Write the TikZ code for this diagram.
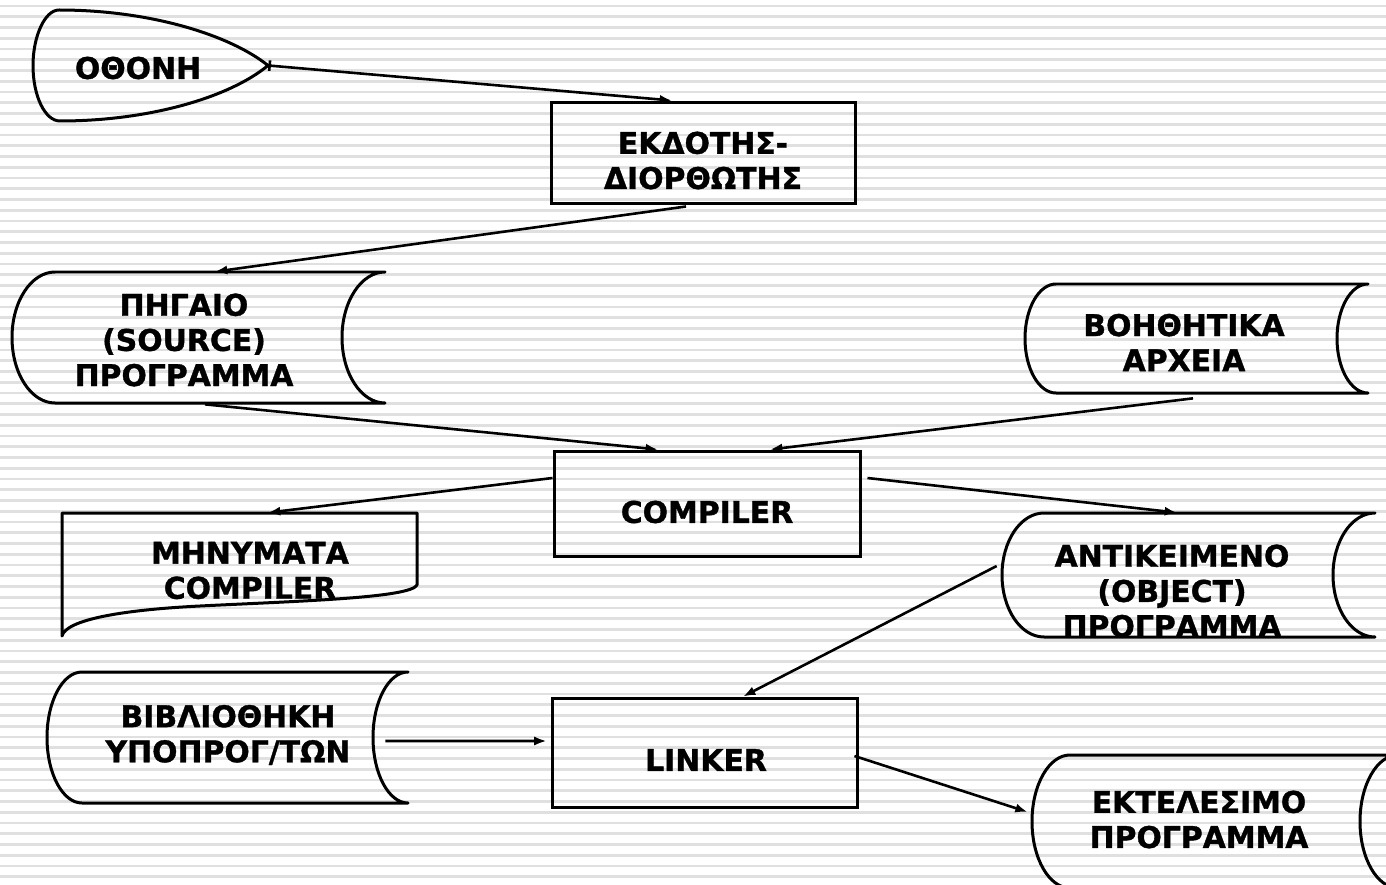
\documentclass[tikz,border=0pt]{standalone}
\usepackage{fontspec}
\setmainfont{DejaVu Sans}
\newfontfamily\lblfamily[FakeBold=1.2]{DejaVu Sans Bold}
\usetikzlibrary{arrows.meta,calc}

\tikzset{
  stripe/.style={line width=0.054cm, black!12},
  outline/.style={line width=0.06cm, black, line join=round},
  procbox/.style={draw, line width=0.06cm, rectangle, inner sep=0pt},
  area/.style={rectangle, inner sep=0pt, draw=none},
  lbl/.style={font=\lblfamily\fontsize{17}{20}\selectfont, align=center, inner sep=0pt},
  conn/.style={line width=0.052cm, -{Latex[length=7pt,width=5.2pt]}},
}

% stored-data symbol: name, left x, top y, right x, bottom y, arc depth
\newcommand\storeshape[6]{%
  \pgfmathsetmacro\stM{(#3+#5)/2}%
  \pgfmathsetmacro\stH{0.5523*(#5-#3)/2}%
  \pgfmathsetmacro\stK{0.5523*#6}%
  \pgfmathsetmacro\stW{(#4-#2)*0.02}%
  \pgfmathsetmacro\stV{(#5-#3)*0.02}%
  \node[area, minimum width=\stW cm, minimum height=\stV cm] (#1) at ({(#2+#4)/2},\stM) {};
  \draw[outline] (#2+#6,#3) -- (#4,#3)
    .. controls (#4-\stK,#3) and (#4-#6,\stM-\stH) .. (#4-#6,\stM)
    .. controls (#4-#6,\stM+\stH) and (#4-\stK,#5) .. (#4,#5)
    -- (#2+#6,#5)
    .. controls (#2+#6-\stK,#5) and (#2,\stM+\stH) .. (#2,\stM)
    .. controls (#2,\stM-\stH) and (#2+#6-\stK,#3) .. cycle;
}

\begin{document}
\begin{tikzpicture}[x=0.02cm, y=-0.02cm]
\useasboundingbox (0,0) rectangle (1386,885);
\clip (0,0) rectangle (1386,885);

% striped background
\foreach \k in {0,...,82} {
  \draw[stripe] (0,6+10.75*\k) -- (1386,6+10.75*\k);
}

% display
\node[area, minimum width=4.7cm, minimum height=2.22cm] (screen) at (150.5,65.5) {};
\draw[outline] (59,10) .. controls (150,10) and (230,35) .. (268,65.5)
  .. controls (230,97) and (150,121) .. (60,121)
  .. controls (45,121) and (33,96) .. (33,65.5)
  .. controls (33,36) and (45,10) .. (59,10);
\node[lbl] (screen-text) at (138,68) {ΟΘΟΝΗ};

% editor
\node[procbox, minimum width=6.10cm, minimum height=2.04cm] (editor) at (703.5,153) {};
\node[lbl] (editor-text) at (703,160.5) {ΕΚΔΟΤΗΣ-\\ΔΙΟΡΘΩΤΗΣ};

% source program
\storeshape{src}{12}{272}{385}{403}{43}
\node[lbl] (src-text) at (184,340) {ΠΗΓΑΙΟ\\(SOURCE)\\ΠΡΟΓΡΑΜΜΑ};

% auxiliary files
\storeshape{aux}{1025}{284}{1368}{393}{31}
\node[lbl] (aux-text) at (1184,342.5) {ΒΟΗΘΗΤΙΚΑ\\ΑΡΧΕΙΑ};

% compiler
\node[procbox, minimum width=6.14cm, minimum height=2.12cm] (compiler) at (707.5,504) {};
\node[lbl] (compiler-text) at (707,512) {COMPILER};

% compiler messages (document symbol)
\node[area, minimum width=7.10cm, minimum height=2.46cm] (msg) at (239.5,574.5) {};
\draw[outline] (62,513) -- (417,513) -- (417,585)
  .. controls (410,598) and (300,601) .. (200,606)
  .. controls (120,610) and (66,620) .. (62,636) -- cycle;
\node[lbl] (msg-text) at (250,570.5) {ΜΗΝΥΜΑΤΑ\\COMPILER};

% object program
\storeshape{obj}{1002}{513}{1375}{637}{42}
\node[lbl] (obj-text) at (1172,591) {ΑΝΤΙΚΕΙΜΕΝΟ\\(OBJECT)\\ΠΡΟΓΡΑΜΜΑ};

% subroutine library
\storeshape{lib}{47}{672}{408}{803}{35}
\node[lbl] (lib-text) at (228,735) {ΒΙΒΛΙΟΘΗΚΗ\\ΥΠΟΠΡΟΓ/ΤΩΝ};

% linker
\node[procbox, minimum width=6.12cm, minimum height=2.20cm] (linker) at (705,753) {};
\node[lbl] (linker-text) at (706,760) {LINKER};

% executable program
\storeshape{exec}{1032}{755}{1398}{888}{38}
\node[lbl] (exec-text) at (1199,819.5) {ΕΚΤΕΛΕΣΙΜΟ\\ΠΡΟΓΡΑΜΜΑ};

% connectors
\draw[conn, {Bar[width=6pt]}-{Latex[length=7pt,width=5.2pt]}] (screen.east) -- ($(editor.north)+(-31.5,0)$);
\draw[conn] ($(editor.south)+(-17.5,1)$) -- ($(src.north)+(16.5,0)$);
\draw[conn] ($(src.south)+(6.5,1)$) -- ($(compiler.north)+(-49.5,0)$);
\draw[conn] ($(aux.south)+(-3.5,5)$) -- ($(compiler.north)+(62.5,0)$);
\draw[conn] ($(compiler.west)+(0,-26)$) -- ($(msg.north)+(28.5,0)$);
\draw[conn] ($(compiler.east)+(5,-26)$) -- ($(obj.north)+(-11.5,0)$);
\draw[conn] ($(obj.west)+(-5,-9)$) -- ($(linker.north)+(38,0)$);
\draw[conn] ($(lib.east)+(-23,3.5)$) -- ($(linker.west)+(-4,-12)$);
\draw[conn] ($(linker.east)+(-5,3)$) -- ($(exec.west)+(-4,-9.5)$);
\end{tikzpicture}
\end{document}
